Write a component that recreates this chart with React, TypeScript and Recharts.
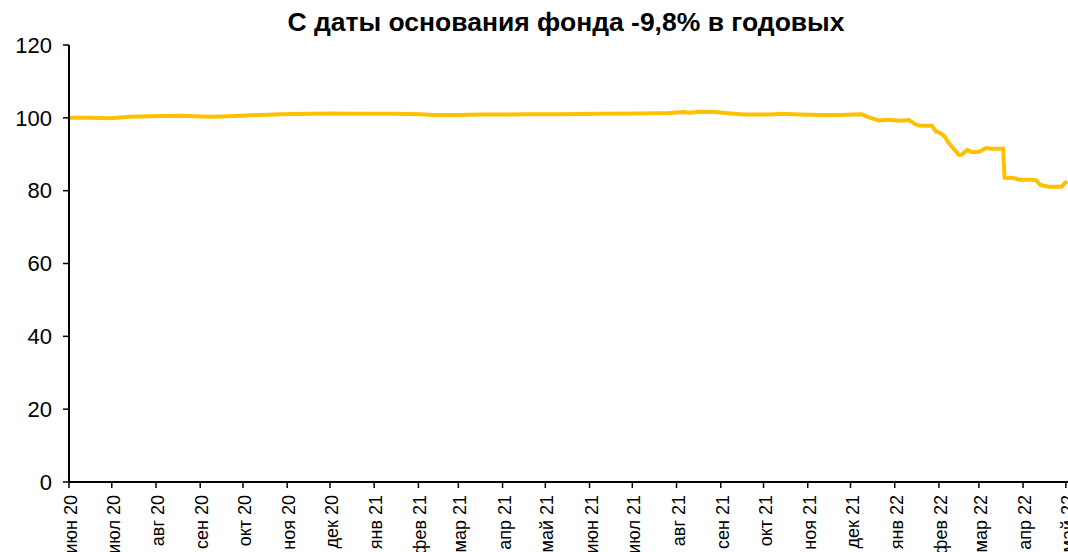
import React from "react";
import { LineChart, Line, XAxis, YAxis } from "recharts";

const TITLE = "С даты основания фонда -9,8% в годовых";

const dates: string[] = [
  "2020-06-01", "2020-06-16", "2020-06-30", "2020-07-14", "2020-08-04", "2020-08-18",
  "2020-09-01", "2020-09-11", "2020-09-29", "2020-10-13", "2020-10-27", "2020-11-17",
  "2020-12-01", "2020-12-22", "2021-01-16", "2021-02-02", "2021-02-11", "2021-03-02",
  "2021-03-16", "2021-03-30", "2021-04-20", "2021-05-11", "2021-06-08", "2021-07-06",
  "2021-07-27", "2021-08-06", "2021-08-10", "2021-08-17", "2021-08-28", "2021-09-08",
  "2021-09-18", "2021-10-06", "2021-10-13", "2021-10-27", "2021-11-10", "2021-11-23",
  "2021-12-09", "2021-12-14", "2021-12-21", "2021-12-28", "2022-01-04", "2022-01-11",
  "2022-01-15", "2022-01-18", "2022-01-27", "2022-01-30", "2022-02-01", "2022-02-05",
  "2022-02-08", "2022-02-12", "2022-02-15", "2022-02-17", "2022-02-21", "2022-02-24",
  "2022-03-01", "2022-03-06", "2022-03-10", "2022-03-18", "2022-03-19", "2022-03-26",
  "2022-03-29", "2022-04-05", "2022-04-10", "2022-04-13", "2022-04-19", "2022-04-24",
  "2022-04-28", "2022-04-30", "2022-05-02",
];

const values: number[] = [
  100.0, 100.0, 99.9, 100.3, 100.5, 100.6,
  100.4, 100.3, 100.6, 100.8, 101.0, 101.1,
  101.2, 101.1, 101.1, 101.0, 100.8, 100.8,
  100.9, 100.9, 101.0, 101.0, 101.1, 101.2,
  101.3, 101.6, 101.4, 101.7, 101.6, 101.2,
  100.9, 100.9, 101.1, 100.9, 100.8, 100.8,
  101.0, 100.1, 99.3, 99.5, 99.2, 99.4,
  98.3, 97.9, 97.8, 96.2, 96.0, 94.9,
  93.0, 91.2, 89.8, 89.9, 91.2, 90.6,
  90.6, 91.7, 91.5, 91.5, 83.6, 83.4,
  83.0, 83.0, 82.9, 81.6, 81.1, 81.1,
  81.1, 82.0, 82.5,
];

const monthStarts: string[] = [
  "2020-06-01", "2020-07-01", "2020-08-01", "2020-09-01", "2020-10-01", "2020-11-01",
  "2020-12-01", "2021-01-01", "2021-02-01", "2021-03-01", "2021-04-01", "2021-05-01",
  "2021-06-01", "2021-07-01", "2021-08-01", "2021-09-01", "2021-10-01", "2021-11-01",
  "2021-12-01", "2022-01-01", "2022-02-01", "2022-03-01", "2022-04-01", "2022-05-01",
];

const monthLabels: string[] = [
  "июн 20", "июл 20", "авг 20", "сен 20", "окт 20", "ноя 20",
  "дек 20", "янв 21", "фев 21", "мар 21", "апр 21", "май 21",
  "июн 21", "июл 21", "авг 21", "сен 21", "окт 21", "ноя 21",
  "дек 21", "янв 22", "фев 22", "мар 22", "апр 22", "май 22",
];

const yTicks: number[] = [0, 20, 40, 60, 80, 100, 120];

const toT = (s: string) => Date.parse(s + "T00:00:00Z");

const data = dates.map((d, i) => ({ t: toT(d), v: values[i] }));
const xTicks = monthStarts.map(toT);
const labelByT: Record<number, string> = {};
xTicks.forEach((t, i) => (labelByT[t] = monthLabels[i]));

const FONT = '"Liberation Sans", Arial, sans-serif';

const XTick = (props: any) => {
  const { x, y, payload } = props;
  const label = labelByT[payload.value] ?? "";
  const cx = x + 2;
  return (
    <text
      x={cx}
      y={y}
      transform={`rotate(-90, ${cx}, ${y})`}
      textAnchor="end"
      dominantBaseline="central"
      fontSize={18}
      fontFamily={FONT}
      fill="#000"
    >
      {label}
    </text>
  );
};

export default function App() {
  const domainStart = toT("2020-06-01");
  const domainEnd = toT("2022-05-02") + 12 * 3600 * 1000;
  return (
    <div
      style={{
        position: "fixed",
        left: 0,
        top: 0,
        width: 1068,
        height: 552,
        overflow: "hidden",
        background: "#fff",
      }}
    >
      <div
        style={{
          position: "absolute",
          top: 9,
          left: 566,
          transform: "translateX(-50%)",
          whiteSpace: "nowrap",
          fontFamily: FONT,
          fontWeight: "bold",
          fontSize: 26.5,
          lineHeight: "26px",
          color: "#000",
        }}
      >
        {TITLE}
      </div>
      <LineChart
        width={1068}
        height={552}
        data={data}
        margin={{ top: 45, right: 0, bottom: 0, left: 0 }}
      >
        <XAxis
          dataKey="t"
          type="number"
          scale="time"
          domain={[domainStart, domainEnd]}
          ticks={xTicks}
          interval={0}
          height={70}
          tickSize={6}
          tickMargin={7}
          axisLine={{ stroke: "#000", strokeWidth: 2 }}
          tickLine={{ stroke: "#000", strokeWidth: 1.5 }}
          tick={<XTick />}
          allowDataOverflow
        />
        <YAxis
          type="number"
          domain={[0, 120]}
          ticks={yTicks}
          interval={0}
          width={69}
          tickSize={6}
          tickMargin={11}
          axisLine={{ stroke: "#000", strokeWidth: 2 }}
          tickLine={{ stroke: "#000", strokeWidth: 1.5 }}
          tick={{ fontSize: 22, fontFamily: FONT, fill: "#000" }}
        />
        <Line
          type="linear"
          dataKey="v"
          stroke="#FFC000"
          strokeWidth={4}
          dot={false}
          isAnimationActive={false}
        />
      </LineChart>
    </div>
  );
}
